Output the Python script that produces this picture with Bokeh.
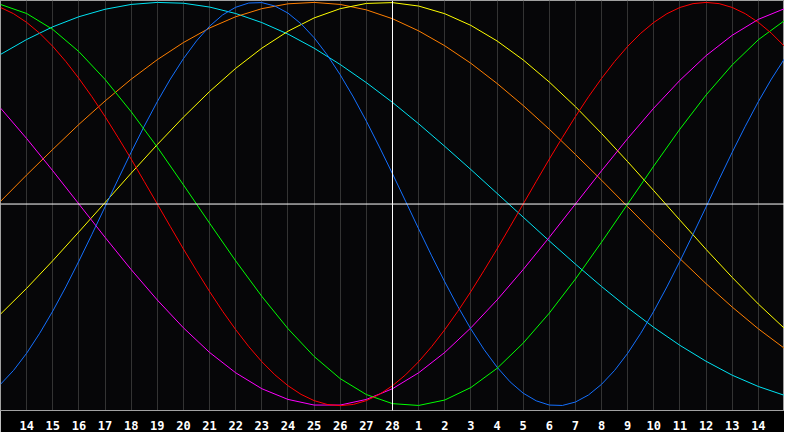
from bokeh.plotting import figure
from bokeh.models import Range1d, FixedTicker, Span
from bokeh.embed import file_html
from bokeh.resources import INLINE

# day positions (0 = the 13th of the first month, 15 = the 28th = today)
days = list(range(31))
half_days = [i / 2 for i in range(61)]
tick_positions = list(range(1, 30))
tick_labels = [str(d) for d in range(14, 29)] + [str(d) for d in range(1, 15)]
today_pos = 15

# read every half day
red = [0.975, 0.944, 0.901, 0.847, 0.782, 0.707, 0.623, 0.532, 0.434, 0.330,
       0.223, 0.112, 0.000, -0.112, -0.223, -0.330, -0.434, -0.532, -0.623,
       -0.707, -0.782, -0.847, -0.901, -0.944, -0.975, -0.994, -1.000, -0.994,
       -0.975, -0.944, -0.901, -0.847, -0.782, -0.707, -0.623, -0.532, -0.434,
       -0.330, -0.223, -0.112, 0.000, 0.112, 0.223, 0.330, 0.434, 0.532, 0.623,
       0.707, 0.782, 0.847, 0.901, 0.944, 0.975, 0.994, 1.000, 0.994, 0.975,
       0.944, 0.901, 0.847, 0.782]
blue = [-0.894, -0.825, -0.740, -0.641, -0.531, -0.411, -0.283, -0.150, -0.014,
        0.123, 0.257, 0.386, 0.508, 0.620, 0.721, 0.809, 0.882, 0.938, 0.976,
        0.997, 0.999, 0.982, 0.947, 0.894, 0.825, 0.740, 0.641, 0.531, 0.411,
        0.283, 0.150, 0.014, -0.123, -0.257, -0.386, -0.508, -0.620, -0.721,
        -0.809, -0.882, -0.938, -0.976, -0.997, -0.999, -0.982, -0.947, -0.894,
        -0.825, -0.740, -0.641, -0.531, -0.411, -0.283, -0.150, -0.014, 0.123,
        0.257, 0.386, 0.508, 0.620, 0.721]
# read every day
green = [0.990, 0.945, 0.866, 0.756, 0.618, 0.458, 0.282, 0.095, -0.095, -0.282,
         -0.458, -0.618, -0.756, -0.866, -0.945, -0.990, -0.999, -0.972, -0.910,
         -0.815, -0.690, -0.541, -0.372, -0.189, 0.000, 0.189, 0.372, 0.541,
         0.690, 0.815, 0.910]
magenta = [0.476, 0.325, 0.165, 0.000, -0.165, -0.325, -0.476, -0.614, -0.736,
           -0.837, -0.916, -0.969, -0.997, -0.997, -0.969, -0.916, -0.837,
           -0.736, -0.614, -0.476, -0.325, -0.165, 0.000, 0.165, 0.325, 0.476,
           0.614, 0.736, 0.837, 0.916, 0.969]
yellow = [-0.546, -0.418, -0.281, -0.138, 0.007, 0.153, 0.295, 0.431, 0.558,
          0.673, 0.773, 0.857, 0.923, 0.969, 0.995, 0.999, 0.982, 0.944, 0.886,
          0.809, 0.715, 0.605, 0.483, 0.350, 0.210, 0.066, -0.080, -0.225,
          -0.364, -0.496, -0.617]
orange = [0.013, 0.144, 0.271, 0.395, 0.511, 0.619, 0.716, 0.801, 0.873, 0.929,
          0.969, 0.993, 1.000, 0.990, 0.963, 0.919, 0.859, 0.785, 0.698, 0.598,
          0.489, 0.371, 0.246, 0.118, -0.013, -0.144, -0.271, -0.395, -0.511,
          -0.619, -0.716]
cyan = [0.742, 0.816, 0.879, 0.929, 0.966, 0.990, 1.000, 0.996, 0.977, 0.945,
        0.900, 0.843, 0.773, 0.692, 0.602, 0.504, 0.398, 0.286, 0.171, 0.053,
        -0.065, -0.183, -0.298, -0.409, -0.514, -0.612, -0.701, -0.780, -0.849,
        -0.905, -0.949]

series = [
    (days, cyan, "#00e4f4"),
    (days, orange, "#ff7f00"),
    (days, yellow, "#ffff00"),
    (days, magenta, "#ff00ff"),
    (half_days, blue, "#1470ff"),
    (days, green, "#00ff00"),
    (half_days, red, "#ff0000"),
]

p = figure(width=784, height=432, output_backend="svg", toolbar_location=None,
           x_range=Range1d(0, 30), y_range=Range1d(-1.024, 1.0095),
           y_axis_location=None, min_border_left=0, min_border_right=0,
           min_border_top=0, min_border_bottom=20)

p.background_fill_color = "#060608"
p.border_fill_color = "#000000"
p.outline_line_color = "#a0a0a0"
p.outline_line_width = 1

p.ygrid.visible = False
p.xgrid.ticker = FixedTicker(ticks=tick_positions)
p.xgrid.grid_line_color = "#333333"
p.xgrid.grid_line_width = 1

p.xaxis.ticker = FixedTicker(ticks=tick_positions)
p.xaxis.major_label_overrides = {pos: lab for pos, lab in zip(tick_positions, tick_labels)}
p.xaxis.major_tick_line_color = None
p.xaxis.minor_tick_line_color = None
p.xaxis.axis_line_color = "#a0a0a0"
p.xaxis.major_label_text_color = "#ffffff"
p.xaxis.major_label_text_font = "DejaVu Sans Mono"
p.xaxis.major_label_text_font_style = "bold"
p.xaxis.major_label_text_font_size = "12px"
p.xaxis.major_label_standoff = 4

p.add_layout(Span(location=0, dimension="width", line_color="#ffffff", line_width=1))
p.add_layout(Span(location=today_pos, dimension="height", line_color="#ffffff", line_width=1))

for xs, vals, col in series:
    p.line(xs, vals, line_color=col, line_width=1)

open("out.html", "w").write(file_html(p, INLINE))
